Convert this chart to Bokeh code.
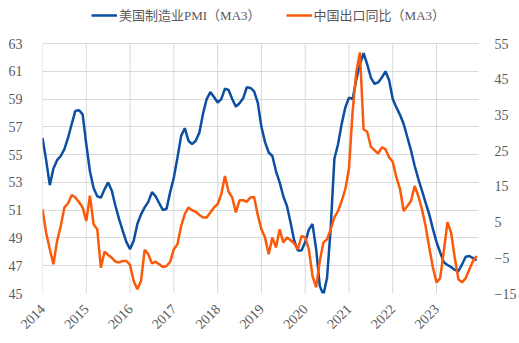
from bokeh.plotting import figure
from bokeh.models import (Range1d, LinearAxis, FixedTicker, Legend, LegendItem)
from bokeh.embed import file_html
from bokeh.resources import INLINE
import math

# Monthly series, Jan 2014 onward (3-month moving averages)
us_pmi_ma3 = [
    56.2, 54.6, 52.8, 54.0, 54.6, 54.9, 55.4, 56.2, 57.2, 58.15, 58.2, 57.9,
    55.75, 53.8, 52.6, 52.0, 51.9, 52.5, 53.0, 52.4, 51.3, 50.35, 49.5, 48.7,
    48.2, 48.8, 50.0, 50.7, 51.2, 51.6, 52.3, 52.0, 51.5, 51.0, 51.1, 52.3,
    53.35, 54.8, 56.35, 56.9, 56.0, 55.75, 56.0, 56.6, 57.95, 59.0, 59.5, 59.15,
    58.75, 59.0, 59.75, 59.65, 59.0, 58.45, 58.7, 59.05, 59.85, 59.8, 59.55, 58.75,
    57.0, 55.9, 55.15, 54.9, 53.8, 53.0, 52.0, 51.3, 50.1, 48.8, 48.1, 48.1,
    48.7, 49.6, 50.0, 48.2, 45.55, 44.9, 46.15, 49.75, 54.7, 55.75, 57.2, 58.4,
    59.1, 59.0, 60.4, 61.5, 62.3, 61.5, 60.55, 60.1, 60.2, 60.55, 61.0, 60.35,
    59.0, 58.4, 57.85, 57.2, 56.25, 55.3, 54.2, 53.25, 52.4, 51.55, 50.7, 49.65,
    48.7, 47.95, 47.25, 47.05, 46.9, 46.7, 46.6, 47.1, 47.65, 47.7, 47.55, 47.4,
]
china_export_yoy_ma3 = [
    8.6, 2.0, -2.6, -6.8, -0.3, 3.9, 9.1, 10.2, 12.6, 11.9, 10.6, 9.1,
    5.3, 12.4, 4.4, 3.0, -7.75, -3.3, -4.2, -5.0, -6.1, -6.3, -5.9, -5.9,
    -7.0, -11.5, -13.8, -11.5, -2.8, -4.0, -6.6, -6.1, -6.8, -7.6, -7.3, -6.1,
    -2.6, -1.2, 3.9, 7.2, 9.1, 8.3, 7.9, 7.0, 6.3, 6.3, 7.7, 9.1,
    10.0, 12.8, 17.9, 13.5, 11.9, 7.7, 11.1, 11.1, 10.7, 11.9, 12.0, 7.0,
    3.0, 0.65, -4.0, 0.65, -2.1, 3.0, -0.7, 0.65, -0.1, -1.0, -2.6, 1.1,
    0.65, -2.6, -10.1, -13.3, -5.9, -0.7, 0.2, 3.0, 6.3, 8.1, 10.9, 14.2,
    20.0, 36.0, 47.0, 52.5, 31.0, 30.3, 26.1, 25.1, 24.2, 25.9, 25.4, 23.1,
    21.9, 17.5, 14.2, 8.1, 9.5, 10.9, 15.1, 12.3, 8.6, 3.9, -2.1, -7.7,
    -11.9, -10.7, -3.1, 5.0, 2.0, -5.0, -11.0, -11.9, -10.7, -8.2, -5.9, -4.5,
]
years = ["2014", "2015", "2016", "2017", "2018", "2019", "2020", "2021", "2022", "2023"]
left_ticks = [45, 47, 49, 51, 53, 55, 57, 59, 61, 63]
right_ticks = [-15, -5, 5, 15, 25, 35, 45, 55]
label_pmi = "美国制造业PMI（MA3）"
label_exp = "中国出口同比（MA3）"

months = list(range(len(us_pmi_ma3)))
year_pos = [12 * i for i in range(len(years))]

BLUE = "#0b4ea2"
ORANGE = "#fa5a0a"
GREY = "#595959"
GRID = "#d9d9d9"
NUMFONT = "'Liberation Serif'"
LEGFONT = "'Liberation Serif', 'Noto Sans CJK SC'"

# The frame reaches the top of the page so that the legend can sit above the
# 63 / 55 gridline; the plotted scale (45..63 over 250 px) is kept.
FRAME_H = 293
left_top = 45 + FRAME_H * (63 - 45) / 250
right_top = -15 + FRAME_H * (55 - (-15)) / 250

p = figure(width=519, height=343, output_backend="svg", toolbar_location=None,
           x_range=Range1d(0, 119.5), y_range=Range1d(45, left_top),
           min_border_left=42, min_border_right=36, min_border_top=0,
           min_border_bottom=50)
p.outline_line_color = None
p.extra_y_ranges = {"right": Range1d(-15, right_top)}

# vertical gridlines at the year ticks, spanning the axis range only
p.segment(x0=year_pos, y0=[left_ticks[0]] * len(year_pos),
          x1=year_pos, y1=[left_ticks[-1]] * len(year_pos),
          line_color=GRID, line_width=1)

r_pmi = p.line(months, us_pmi_ma3, line_color=BLUE, line_width=2.5)
r_exp = p.line(months, china_export_yoy_ma3, line_color=ORANGE, line_width=2.5,
               y_range_name="right")

# x axis
xa = p.xaxis[0]
xa.ticker = FixedTicker(ticks=year_pos)
xa.major_label_overrides = {pos: y for pos, y in zip(year_pos, years)}
xa.major_label_orientation = math.pi / 4

ya = p.yaxis[0]
ya.ticker = FixedTicker(ticks=left_ticks)

ra = LinearAxis(y_range_name="right", ticker=FixedTicker(ticks=right_ticks))
p.add_layout(ra, "right")

for ax in [xa, ya, ra]:
    ax.axis_line_color = None
    ax.major_tick_line_color = None
    ax.minor_tick_line_color = None
    ax.major_label_text_font = NUMFONT
    ax.major_label_text_font_size = "14px"
    ax.major_label_text_color = GREY
ya.major_label_standoff = 14
ra.major_label_standoff = 10
xa.major_label_standoff = 7

p.xgrid.visible = False
p.ygrid.grid_line_color = GRID
p.ygrid.grid_line_width = 1

legend = Legend(items=[LegendItem(label=label_pmi, renderers=[r_pmi]),
                       LegendItem(label=label_exp, renderers=[r_exp])],
                orientation="horizontal", location=(49, 269),
                border_line_color=None, background_fill_alpha=0,
                label_text_font=LEGFONT, label_text_font_size="13px",
                label_text_color=GREY, glyph_width=26, glyph_height=14,
                label_standoff=2, spacing=25, padding=0, margin=0)
p.add_layout(legend, "center")

open("out.html", "w").write(file_html(p, INLINE))
